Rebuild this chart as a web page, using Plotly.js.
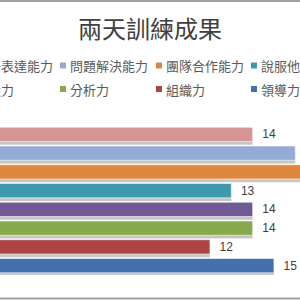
<!DOCTYPE html>
<html><head><meta charset="utf-8">
<script src="https://cdn.plot.ly/plotly-3.0.1.min.js"></script>
<style>
html,body{margin:0;padding:0;overflow:hidden;width:300px;height:300px;background:#fff}
#wrap{position:absolute;left:0;top:0;width:300px;height:300px;overflow:hidden}
#chart{position:absolute;left:-100px;top:0;width:500px;height:300px}
</style>
</head><body><div id="wrap"><div id="chart"></div></div>
<script>
const chartTitle = '兩天訓練成果';
const seriesNames = ['口語表達能力','問題解決能力','團隊合作能力','說服他人能力','創造力','分析力','組織力','領導力'];
const seriesValues = [14, 16, 17, 13, 14, 14, 12, 15];
const seriesColors = ['#D69595','#94ABD6','#E0873F','#3F98AF','#715A94','#88A84E','#AE4544','#4271AE'];

const cjk = '"Noto Sans CJK TC", "Noto Sans CJK SC", sans-serif';
const W = 500, OFF = 100, T = 125, B = 25, H = 300;
const px2x = p => (p + OFF) / W;            // window x pixel -> paper x
const py2y = p => (H - B - p) / (H - T - B); // window y pixel -> paper y

// soft drop shadow under each bar (same data, drawn behind)
const shadow = {
  type: 'bar', orientation: 'h', x: seriesValues, y: seriesNames,
  width: 0.76, offset: -0.21,
  marker: {color: 'rgba(120,120,120,0.42)', line: {width: 0}},
  showlegend: false, hoverinfo: 'skip'
};

const traces = [shadow].concat(seriesNames.map((n, i) => ({
  type: 'bar', orientation: 'h', name: n,
  x: [seriesValues[i]], y: [n],
  marker: {color: seriesColors[i], line: {color: 'rgba(255,255,255,0.55)', width: 1}},
  texttemplate: '\u00a0\u00a0%{x}', textposition: 'outside', cliponaxis: false,
  textfont: {family: 'Liberation Sans, Arial, sans-serif', size: 12, color: '#404040'},
  showlegend: false, hoverinfo: 'skip'
})));

const shapes = [
  {type: 'line', xref: 'paper', yref: 'paper', x0: 0, x1: 1, y0: py2y(1), y1: py2y(1), line: {color: '#a0a0a0', width: 2}},
  {type: 'line', xref: 'paper', yref: 'paper', x0: 0, x1: 1, y0: py2y(298.5), y1: py2y(298.5), line: {color: '#a0a0a0', width: 2}}
];
const annotations = [];
// legend: 4 columns x 2 rows, built from the series arrays
const colMarker = [-32, 63, 159, 254];
const rowY = [65.5, 89];
seriesNames.forEach((n, i) => {
  const c = i % 4, r = Math.floor(i / 4);
  const mx = colMarker[c], my = rowY[r];
  shapes.push({type: 'rect', xref: 'paper', yref: 'paper',
    x0: px2x(mx - 3), x1: px2x(mx + 3), y0: py2y(my + 3), y1: py2y(my - 3),
    fillcolor: seriesColors[i], line: {width: 0}});
  annotations.push({xref: 'paper', yref: 'paper', x: px2x(mx + 5), y: py2y(my),
    xanchor: 'left', yanchor: 'middle', showarrow: false, text: n,
    font: {family: cjk, size: 13, color: '#595959'}});
});

const layout = {
  width: W, height: H, margin: {l: 0, r: 0, t: T, b: B},
  paper_bgcolor: '#ffffff', plot_bgcolor: 'rgba(0,0,0,0)',
  barmode: 'overlay', bargap: 0.24, showlegend: false,
  xaxis: {range: [-2.53, 20.91], visible: false, fixedrange: true},
  yaxis: {type: 'category', categoryorder: 'array', categoryarray: seriesNames, range: [7.5, -0.5], visible: false},
  title: {text: chartTitle, font: {family: cjk, size: 24, color: '#404040'},
    x: 0.5, xref: 'container', xanchor: 'center', y: 0.9, yref: 'container', yanchor: 'middle'},
  shapes: shapes, annotations: annotations
};
Plotly.newPlot('chart', traces, layout, {staticPlot: true, displayModeBar: false});
</script>
</body></html>
